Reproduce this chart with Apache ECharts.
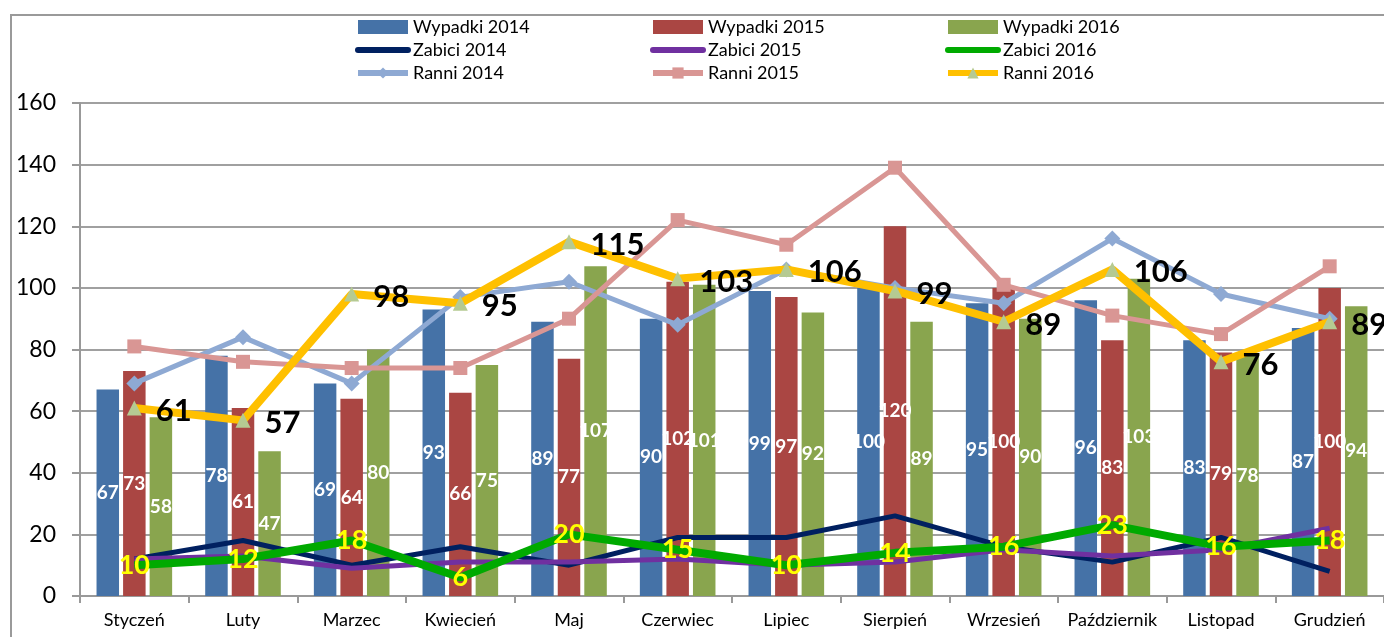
<!DOCTYPE html>
<html>
<head>
<meta charset="utf-8">
<script src="https://cdn.jsdelivr.net/npm/echarts@6/dist/echarts.min.js"></script>
<style>
  html, body { margin: 0; padding: 0; background: #fff; }
  #chart { width: 1384px; height: 637px; }
</style>
</head>
<body>
<div id="chart"></div>
<script>
// Months
const months = ['Styczeń', 'Luty', 'Marzec', 'Kwiecień', 'Maj', 'Czerwiec',
  'Lipiec', 'Sierpień', 'Wrzesień', 'Październik', 'Listopad', 'Grudzień'];

// Accidents (bars)
const wypadki2014 = [67, 78, 69, 93, 89, 90, 99, 100, 95, 96, 83, 87];
const wypadki2015 = [73, 61, 64, 66, 77, 102, 97, 120, 100, 83, 79, 100];
const wypadki2016 = [58, 47, 80, 75, 107, 101, 92, 89, 90, 103, 78, 94];

// Killed (lines)
const zabici2014 = [12, 18, 10, 16, 10, 19, 19, 26, 16, 11, 19, 8];
const zabici2015 = [12, 13, 9, 11, 11, 12, 10, 11, 15, 13, 15, 22];
const zabici2016 = [10, 12, 18, 6, 20, 15, 10, 14, 16, 23, 16, 18];

// Injured (lines with markers)
const ranni2014 = [69, 84, 69, 97, 102, 88, 106, 100, 95, 116, 98, 90];
const ranni2015 = [81, 76, 74, 74, 90, 122, 114, 139, 101, 91, 85, 107];
const ranni2016 = [61, 57, 98, 95, 115, 103, 106, 99, 89, 106, 76, 89];

// Value axis
const yMin = 0, yMax = 160, yStep = 20;

const FONT = 'Lato, "Liberation Sans", sans-serif';

const barLabel = {
  show: true,
  position: 'inside',
  color: '#fff',
  fontFamily: FONT,
  fontWeight: 'bold',
  fontSize: 19,
  textBorderWidth: 0
};

function barSeries(name, data, color) {
  return {
    name, type: 'bar', data,
    barWidth: 22.5, barGap: '18%',
    itemStyle: { color },
    label: barLabel,
    z: 2
  };
}

function lineSeries(name, data, color, width, extra) {
  return Object.assign({
    name, type: 'line', data,
    lineStyle: { color, width },
    itemStyle: { color },
    symbol: 'none',
    z: 3
  }, extra || {});
}

const series = [
  barSeries('Wypadki 2014', wypadki2014, '#4572A7'),
  barSeries('Wypadki 2015', wypadki2015, '#AA4643'),
  barSeries('Wypadki 2016', wypadki2016, '#89A54E'),
  lineSeries('Zabici 2014', zabici2014, '#002060', 5),
  lineSeries('Zabici 2015', zabici2015, '#7030A0', 5),
  lineSeries('Zabici 2016', zabici2016, '#00AA00', 8, {
    symbol: 'circle', symbolSize: 1, showSymbol: true,
    itemStyle: { color: 'rgba(0,0,0,0)' },
    label: {
      show: true, position: 'inside', color: '#FFFF00',
      fontFamily: FONT, fontWeight: 'bold', fontSize: 27
    },
    z: 4
  }),
  lineSeries('Ranni 2014', ranni2014, '#8EA9D3', 5, {
    symbol: 'diamond', symbolSize: 16, showSymbol: true
  }),
  lineSeries('Ranni 2015', ranni2015, '#D99694', 5, {
    symbol: 'rect', symbolSize: 14, showSymbol: true
  }),
  lineSeries('Ranni 2016', ranni2016, '#FFC000', 8, {
    symbol: 'triangle', symbolSize: 15, showSymbol: true,
    itemStyle: { color: '#B5CA92' },
    label: {
      show: true, position: 'right', distance: 14, offset: [0, 3],
      color: '#000', fontFamily: FONT, fontWeight: 'bold', fontSize: 31
    },
    z: 5
  })
];

// Legend entries: bars as plain rectangles, killed as thick plain lines,
// injured as thick lines carrying their marker
function legendEntry(n) {
  if (n.startsWith('Wypadki')) return { name: n, icon: 'rect' };
  if (n.startsWith('Zabici')) {
    return { name: n, lineStyle: { width: 6, cap: 'round' }, itemStyle: { opacity: 0 } };
  }
  return { name: n, lineStyle: { width: 6 } };
}

function legendColumn(left, names) {
  return {
    orient: 'vertical', left, top: 13,
    itemWidth: 50, itemHeight: 14, itemGap: 5,
    textStyle: { fontFamily: FONT, fontSize: 18, color: '#000' },
    data: names.map(legendEntry),
    selectedMode: false
  };
}

const option = {
  animation: false,
  backgroundColor: '#fff',
  graphic: [{
    type: 'rect', silent: true,
    shape: { x: 11, y: 15, width: 1400, height: 700 },
    style: { fill: 'none', stroke: '#9a9a9a', lineWidth: 2 }
  }],
  legend: [
    legendColumn(350, ['Wypadki 2014', 'Zabici 2014', 'Ranni 2014']),
    legendColumn(645, ['Wypadki 2015', 'Zabici 2015', 'Ranni 2015']),
    legendColumn(940, ['Wypadki 2016', 'Zabici 2016', 'Ranni 2016'])
  ],
  grid: { left: 80, right: -5, top: 103, bottom: 41, containLabel: false },
  xAxis: {
    type: 'category', data: months,
    axisLine: { lineStyle: { color: '#999', width: 2 } },
    axisTick: { show: true, length: 7, lineStyle: { color: '#999', width: 2 } },
    axisLabel: { color: '#000', fontFamily: FONT, fontSize: 18, margin: 15, interval: 0 }
  },
  yAxis: {
    type: 'value', min: yMin, max: yMax, interval: yStep,
    axisLine: { show: true, lineStyle: { color: '#999', width: 2 } },
    axisTick: { show: true, length: 8, lineStyle: { color: '#999', width: 2 } },
    splitLine: { lineStyle: { color: '#a0a0a0', width: 2 } },
    axisLabel: { color: '#000', fontFamily: FONT, fontSize: 23, margin: 24 }
  },
  series
};

const chart = echarts.init(document.getElementById('chart'), null, { renderer: 'canvas' });
chart.setOption(option);
</script>
</body>
</html>
